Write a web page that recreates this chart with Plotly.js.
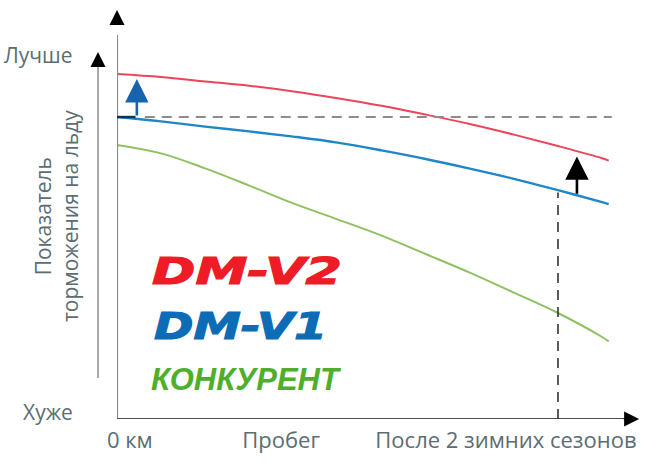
<!DOCTYPE html>
<html>
<head>
<meta charset="utf-8">
<script src="https://cdn.plot.ly/plotly-3.0.1.min.js"></script>
<style>
  html, body { margin: 0; padding: 0; background: #ffffff; }
  #chart { width: 650px; height: 469px; }
</style>
</head>
<body>
<div id="chart"></div>
<script>
// ---- data ----
const mileage    = [0, 1, 2, 3, 4, 5, 6, 7, 8, 9, 10, 11, 11.15];   // relative mileage units
const dmV2       = [86.25, 85.5, 84.4, 83.3, 81.9, 80.2, 78.3, 76.1, 73.75, 71.1, 68.25, 65.2, 64.6];
const dmV1       = [75.5, 74.4, 73.1, 71.9, 70.6, 69.1, 67.15, 65.0, 62.6, 60.05, 57.2, 54.2, 53.7];
const competitor = [68.5, 66.4, 62.65, 58.35, 53.9, 49.9, 45.85, 41.25, 36.6, 31.6, 26.5, 20.5, 19.4];

const seriesNames = ['DM-V2', 'DM-V1', 'КОНКУРЕНТ'];
const xTickVals   = [0.29, 3.72, 8.82];
const xTickText   = ['0 км', 'Пробег', 'После 2 зимних сезонов'];
const yLevelText  = ['Хуже', 'Лучше'];
const yTitleText  = 'Показатель<br>торможения на льду';
const afterTwoSeasons = 10;   // mileage where the comparison is shown

// ---- styles ----
const cRed = '#e8465b', cBlue = '#1f87c6', cGreen = '#8fc163';
const labelColor = '#5c6d72';
const xMax = 11.86, yMax = 102.25;

function interp(xs, ys, x) {
  for (let i = 0; i < xs.length - 1; i++) {
    if (x >= xs[i] && x <= xs[i + 1]) {
      const t = (x - xs[i]) / (xs[i + 1] - xs[i]);
      return ys[i] + t * (ys[i + 1] - ys[i]);
    }
  }
  return ys[ys.length - 1];
}

const traces = [
  { x: mileage, y: competitor, name: seriesNames[2], mode: 'lines',
    line: { color: cGreen, width: 2, shape: 'spline', smoothing: 1 } },
  { x: mileage, y: dmV1, name: seriesNames[1], mode: 'lines',
    line: { color: cBlue, width: 2.4, shape: 'spline', smoothing: 1 } },
  { x: mileage, y: dmV2, name: seriesNames[0], mode: 'lines',
    line: { color: cRed, width: 2, shape: 'spline', smoothing: 1 } }
];

const arrowX = 10.43;
const v1AtArrow = interp(mileage, dmV1, arrowX);
const v2AtArrow = interp(mileage, dmV2, arrowX);
const v1AtSeasons = interp(mileage, dmV1, afterTwoSeasons);

const outerArrowX = -0.0363;   // paper fraction left of plot

const shapes = [
  // main y axis shaft
  { type: 'line', xref: 'x', yref: 'y', x0: 0, x1: 0, y0: 0, y1: 96,
    line: { color: '#8a8a8a', width: 2.2 }, layer: 'above' },
  // x axis shaft
  { type: 'line', xref: 'x', yref: 'y', x0: 0, x1: 11.6, y0: 0, y1: 0,
    line: { color: '#4d4d4d', width: 2 }, layer: 'above' },
  // secondary (outer) y arrow shaft
  { type: 'line', xref: 'paper', yref: 'y', x0: outerArrowX, x1: outerArrowX, y0: 10.25, y1: 88,
    line: { color: '#a8a8a8', width: 2 } },
  // horizontal dashed reference at DM-V1 start level
  { type: 'line', xref: 'x', yref: 'y', x0: 0.63, x1: 11.22, y0: dmV1[0], y1: dmV1[0],
    line: { color: '#8c8c8c', width: 2, dash: '10px,7px' } },
  // short dark segment at start
  { type: 'line', xref: 'x', yref: 'y', x0: 0, x1: 0.42, y0: dmV1[0], y1: dmV1[0],
    line: { color: '#1d2f4d', width: 2.4 } },
  // vertical dashed at "after 2 seasons"
  { type: 'line', xref: 'x', yref: 'y', x0: afterTwoSeasons, x1: afterTwoSeasons, y0: 0, y1: v1AtSeasons - 0.6,
    line: { color: '#333333', width: 1.6, dash: '10px,7px' } }
];

const annotations = [
  // axis arrow heads
  { xref: 'x', yref: 'y', axref: 'x', ayref: 'y', x: 0, y: yMax, ax: 0, ay: yMax - 4,
    showarrow: true, arrowhead: 2, arrowsize: 1.5, arrowwidth: 2, arrowcolor: '#000', text: '' },
  { xref: 'x', yref: 'y', axref: 'x', ayref: 'y', x: xMax - 0.02, y: 0, ax: xMax - 0.4, ay: 0,
    showarrow: true, arrowhead: 2, arrowsize: 1.5, arrowwidth: 2, arrowcolor: '#000', text: '' },
  { xref: 'paper', yref: 'y', axref: 'pixel', ayref: 'pixel', x: outerArrowX, y: 91.75, ax: 0, ay: 16,
    showarrow: true, arrowhead: 2, arrowsize: 1.5, arrowwidth: 2, arrowcolor: '#000', text: '' },
  // blue improvement arrow
  { xref: 'x', yref: 'y', axref: 'x', ayref: 'y', x: 0.45, y: dmV2[0] - 1.25, ax: 0.45, ay: dmV1[0],
    showarrow: true, arrowhead: 2, arrowsize: 1.8, arrowwidth: 2.6, arrowcolor: '#1763ad', text: '' },
  // black improvement arrow
  { xref: 'x', yref: 'y', axref: 'x', ayref: 'y', x: arrowX, y: v2AtArrow - 1.3, ax: arrowX, ay: v1AtArrow,
    showarrow: true, arrowhead: 2, arrowsize: 1.8, arrowwidth: 2.6, arrowcolor: '#000', text: '' },
  // level labels
  { xref: 'paper', yref: 'y', x: -0.0803, y: 91, xanchor: 'right', yanchor: 'middle', showarrow: false,
    text: yLevelText[1], font: { family: 'Open Sans', size: 21, color: labelColor } },
  { xref: 'paper', yref: 'y', x: -0.0803, y: 1.75, xanchor: 'right', yanchor: 'middle', showarrow: false,
    text: yLevelText[0], font: { family: 'Open Sans', size: 21, color: labelColor } },
  // y title
  { xref: 'paper', yref: 'y', x: -0.1165, y: 50.75, xanchor: 'center', yanchor: 'middle', showarrow: false,
    textangle: -90, text: yTitleText, font: { family: 'Open Sans', size: 21, color: labelColor } },
  // series labels (legend)
  { name: 'logoV2', xref: 'x', yref: 'y', x: 0.75, y: 36.9, xanchor: 'left', yanchor: 'middle', showarrow: false,
    text: '<b><i><span style="stroke:#ee1c26;stroke-width:1.2px">' + seriesNames[0] + '</span></i></b>',
    font: { family: 'DejaVu Sans', size: 38, color: '#ee1c26' } },
  { name: 'logoV1', xref: 'x', yref: 'y', x: 0.79, y: 23.25, xanchor: 'left', yanchor: 'middle', showarrow: false,
    text: '<b><i><span style="stroke:#0c6cb6;stroke-width:1.2px">' + seriesNames[1] + '</span></i></b>',
    font: { family: 'DejaVu Sans', size: 38, color: '#0c6cb6' } },
  { xref: 'x', yref: 'y', x: 0.72, y: 10, xanchor: 'left', yanchor: 'middle', showarrow: false,
    text: '<b><i>' + seriesNames[2] + '</i></b>',
    font: { family: 'Liberation Sans', size: 31, color: '#4fae2c' } }
];

const layout = {
  width: 650, height: 469,
  margin: { l: 117, r: 10, t: 10, b: 50, pad: 0 },
  paper_bgcolor: '#ffffff', plot_bgcolor: '#ffffff',
  showlegend: false,
  xaxis: {
    range: [0, xMax], showgrid: false, zeroline: false, showline: false,
    tickvals: xTickVals, ticktext: xTickText, ticks: '', ticklabelstandoff: 6,
    tickfont: { family: 'Open Sans', size: 22, color: labelColor },
    fixedrange: true
  },
  yaxis: {
    range: [0, yMax], showgrid: false, zeroline: false, showline: false,
    showticklabels: false, ticks: '', fixedrange: true
  },
  shapes: shapes,
  annotations: annotations
};

// the logos are an extended heavy italic face; widen the installed bold italic to the same width
const logoWidths = { 8: 190, 9: 173 };

Plotly.newPlot('chart', traces, layout, { displayModeBar: false, staticPlot: true }).then(function (gd) {
  Object.keys(logoWidths).forEach(function (idx) {
    const g = gd.querySelector('.annotation[data-index="' + idx + '"] text.annotation-text');
    if (!g) return;
    const bb = g.getBBox();
    const s = logoWidths[idx] / bb.width;
    g.setAttribute('transform', 'translate(' + bb.x + ',0) scale(' + s + ',1) translate(' + (-bb.x) + ',0)');
  });
});
</script>
</body>
</html>
